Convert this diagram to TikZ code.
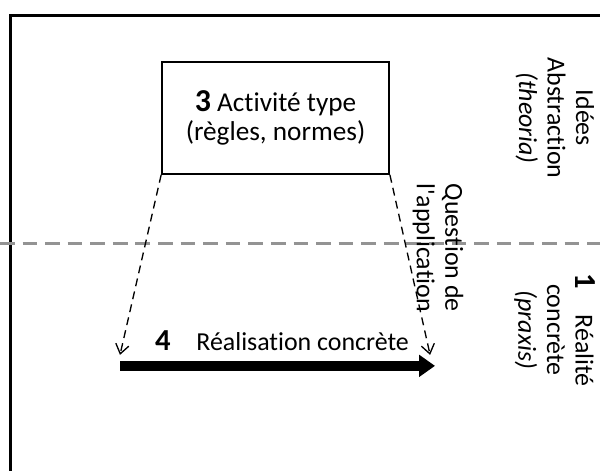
\documentclass[tikz,border=0pt]{standalone}
\usepackage{fontspec}
\setmainfont{Carlito}[Ligatures={TeXOff,NoCommon}]
\usetikzlibrary{arrows.meta}

\begin{document}
\begin{tikzpicture}[
  txt/.style={font=\fontsize{19.5}{21.5}\selectfont, align=center, inner sep=0pt},
  side/.style={txt, rotate=-90},
  dasharrow/.style={black, line width=1pt, dash pattern=on 6pt off 4pt, -{Straight Barb[length=7pt,width=10pt]}}
]
\clip (0,0) rectangle (15.875,12.46);
\fill[white] (0,0) rectangle (15.875,12.46);
\draw[black, line width=2.25pt] (0.265,-1) rectangle (17,12.06);
\draw[gray!85, line width=2.25pt, dash pattern=on 11pt off 6pt] (0,6.03) -- (15.875,6.03);

\node[draw, line width=1.5pt, minimum width=6cm, minimum height=2.96cm, txt, font=\fontsize{20.5}{21.5}\selectfont] (activite) at (7.29,9.34)
  {{\fontsize{24}{24}\selectfont\bfseries 3}\ Activité type\\(règles, normes)};

\coordinate (gauche) at (3.175,3.07);
\coordinate (droite) at (11.38,3.07);
\draw[dasharrow] (activite.south west) -- (gauche);
\draw[dasharrow] (activite.south east) -- (droite);

\coordinate (debut) at (3.175,2.78);
\coordinate (fin) at (11.51,2.78);
\draw[black, line width=7.5pt, -{Triangle[length=12pt,width=16pt]}] (debut) -- (fin);
\node[txt] (realisation) at (7.46,3.44) {{\fontsize{23}{23}\selectfont\bfseries 4}\quad Réalisation concrète};

\node[side] (question) at (11.59,5.9) {Question de\\l'application};
\node[side] (theoria) at (14.68,9.34) {Idées\\Abstraction\\\textit{(theoria)}};
\node[side] (praxis) at (14.68,3.73) {{\fontsize{23}{23}\selectfont\bfseries 1}\quad Réalité\\concrète\\\textit{(praxis)}};
\end{tikzpicture}
\end{document}
